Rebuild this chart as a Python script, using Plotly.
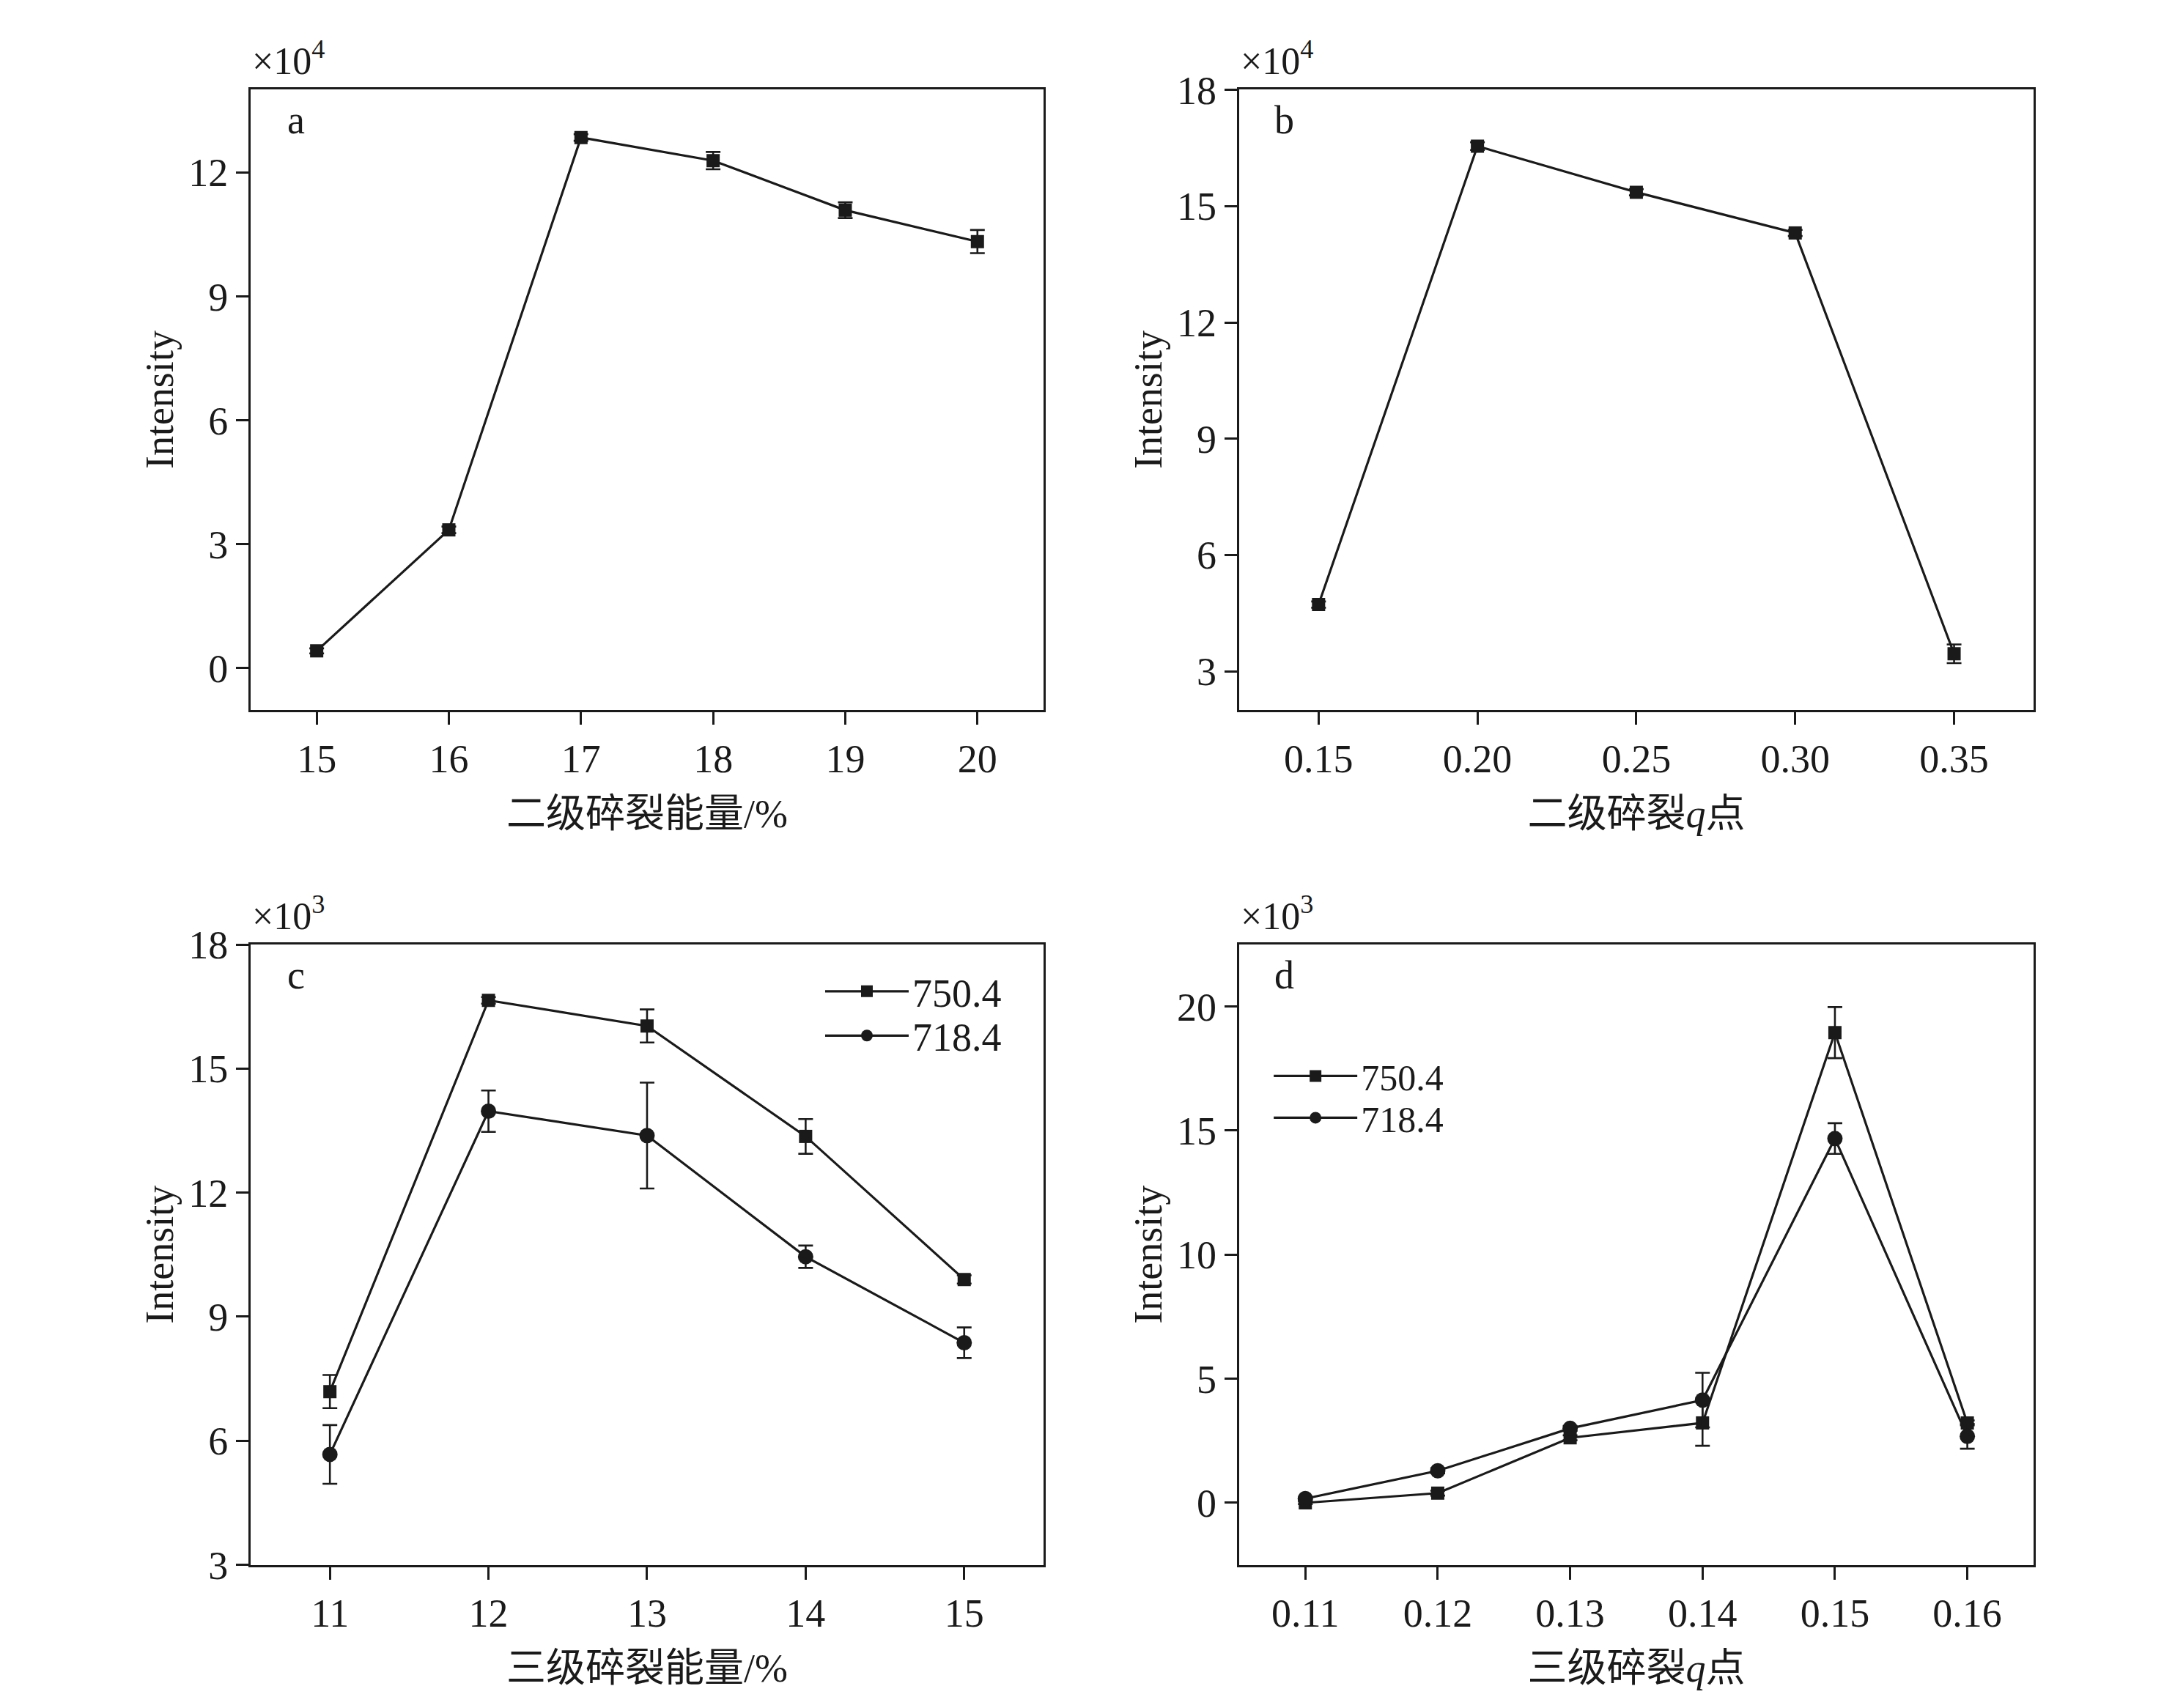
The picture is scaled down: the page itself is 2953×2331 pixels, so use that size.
import plotly.graph_objects as go
from plotly.subplots import make_subplots

# ---- data ----
a_x = [15, 16, 17, 18, 19, 20]
a_y = [0.42, 3.35, 12.85, 12.29, 11.09, 10.33]
a_err = [0.06, 0.08, 0.08, 0.21, 0.19, 0.28]

b_x = [0.15, 0.20, 0.25, 0.30, 0.35]
b_y = [4.72, 16.55, 15.36, 14.31, 3.45]
b_err = [0.08, 0.1, 0.08, 0.08, 0.24]

c_x = [11, 12, 13, 14, 15]
c_750 = [7.19, 16.65, 16.03, 13.36, 9.90]
c_750_err = [0.4, 0.08, 0.4, 0.42, 0.1]
c_718 = [5.67, 13.97, 13.38, 10.45, 8.37]
c_718_err = [0.71, 0.5, 1.28, 0.27, 0.37]

d_x = [0.11, 0.12, 0.13, 0.14, 0.15, 0.16]
d_750 = [0.0, 0.39, 2.62, 3.22, 18.95, 3.22]
d_750_err = [0.05, 0.1, 0.1, 0.92, 1.03, 0.1]
d_718 = [0.17, 1.29, 3.0, 4.14, 14.68, 2.68]
d_718_err = [0.05, 0.1, 0.1, 1.1, 0.62, 0.5]

INK = "#1a1a1a"
FONT = "Liberation Serif, Times New Roman, Noto Sans CJK SC, serif"


def series(x, y, err, symbol, size, name=None, legend=None):
    return go.Scatter(
        x=x, y=y, name=name, mode="lines+markers",
        line=dict(color=INK, width=3.2),
        marker=dict(symbol=symbol, size=size, color=INK),
        error_y=dict(type="data", array=err, color=INK, thickness=2.6, width=10),
        showlegend=legend is not None, legend=legend,
    )


fig = make_subplots(rows=2, cols=2)

fig.add_trace(series(a_x, a_y, a_err, "square", 18), row=1, col=1)
fig.add_trace(series(b_x, b_y, b_err, "square", 18), row=1, col=2)
fig.add_trace(series(c_x, c_750, c_750_err, "square", 18, "750.4", "legend"), row=2, col=1)
fig.add_trace(series(c_x, c_718, c_718_err, "circle", 21, "718.4", "legend2"), row=2, col=1)
fig.add_trace(series(d_x, d_750, d_750_err, "square", 18, "750.4", "legend3"), row=2, col=2)
fig.add_trace(series(d_x, d_718, d_718_err, "circle", 21, "718.4", "legend4"), row=2, col=2)

xl, xr = [0.1131, 0.4795], [0.5699, 0.9370]
yt, yb = [0.5894, 0.9627], [0.0759, 0.4487]

axis_style = dict(
    showline=True, mirror=True, linecolor=INK, linewidth=3,
    ticks="outside", ticklen=17, tickwidth=3, tickcolor=INK,
    showgrid=False, zeroline=False,
    tickfont=dict(family=FONT, size=54, color=INK),
    title_font=dict(family=FONT, size=54, color=INK),
)

panels = [
    # xaxis, yaxis, xdomain, ydomain, xrange, xticks, decimals, xtitle, yrange, yticks, exponent, label
    ("xaxis", "yaxis", xl, yt, [14.5, 20.5], [15, 16, 17, 18, 19, 20], False,
     "二级碎裂能量/%", [-1.02, 14.02], [0, 3, 6, 9, 12], "4", "a"),
    ("xaxis2", "yaxis2", xr, yt, [0.125, 0.375], [0.15, 0.20, 0.25, 0.30, 0.35], True,
     "二级碎裂<i>q</i>点", [1.99, 18.02], [3, 6, 9, 12, 15, 18], "4", "b"),
    ("xaxis3", "yaxis3", xl, yb, [10.5, 15.5], [11, 12, 13, 14, 15], False,
     "三级碎裂能量/%", [3, 18], [3, 6, 9, 12, 15, 18], "3", "c"),
    ("xaxis4", "yaxis4", xr, yb, [0.105, 0.165], [0.11, 0.12, 0.13, 0.14, 0.15, 0.16], True,
     "三级碎裂<i>q</i>点", [-2.5, 22.5], [0, 5, 10, 15, 20], "3", "d"),
]

for xa, ya, xd, yd, xrng, xt, dec, xtitle, yrng, ytk, expo, lab in panels:
    fig.layout[xa].update(domain=xd, range=xrng, tickvals=xt,
                          ticktext=[(f"{v:.2f}" if dec else str(v)) for v in xt],
                          title=dict(text=xtitle, standoff=26), **axis_style)
    fig.layout[ya].update(domain=yd, range=yrng, tickvals=ytk,
                          title=dict(text="Intensity", standoff=4), **axis_style)
    xref = xa.replace("axis", "") + " domain"
    yref = ya.replace("axis", "") + " domain"
    fig.add_annotation(x=0, y=1, xref=xref, yref=yref, xanchor="left", yanchor="bottom",
                       yshift=8, showarrow=False, text=f"×10<sup>{expo}</sup>",
                       font=dict(family=FONT, size=52, color=INK))
    fig.add_annotation(x=0.057, y=0.95, xref=xref, yref=yref, xanchor="center", yanchor="middle",
                       showarrow=False, text=lab, font=dict(family=FONT, size=54, color=INK))

legend_style = dict(bgcolor="rgba(0,0,0,0)", borderwidth=0, itemwidth=114,
                    xanchor="left", yanchor="middle")
font_c = dict(family=FONT, size=54, color=INK)
font_d = dict(family=FONT, size=50, color=INK)

fig.update_layout(
    width=2953, height=2331,
    margin=dict(l=0, r=0, t=0, b=0),
    paper_bgcolor="white", plot_bgcolor="white",
    font=dict(family=FONT, color=INK),
    legend=dict(x=0.3769, y=0.4204, font=font_c, **legend_style),
    legend2=dict(x=0.3769, y=0.3938, font=font_c, **legend_style),
    legend3=dict(x=0.5842, y=0.3697, font=font_d, **legend_style),
    legend4=dict(x=0.5842, y=0.3446, font=font_d, **legend_style),
)

fig.write_html("out.html")
